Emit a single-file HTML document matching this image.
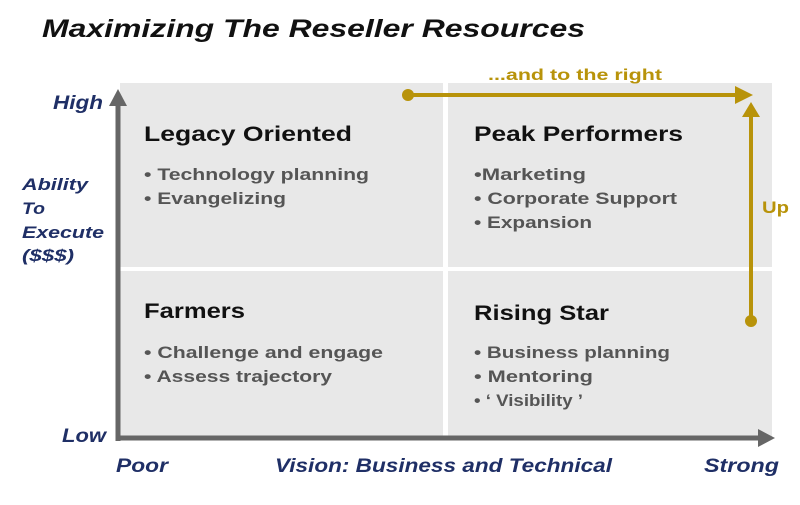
<!DOCTYPE html>
<html><head><style>
body{margin:0;width:800px;height:500px;background:#fff;overflow:hidden}
svg text{font-family:"Liberation Sans",sans-serif}
</style></head><body>
<svg width="800" height="500" viewBox="0 0 800 500">
<text x="42" y="37" font-size="25" font-weight="bold" font-style="italic" fill="#111" textLength="543" lengthAdjust="spacingAndGlyphs">Maximizing The Reseller Resources</text>
<rect x="120" y="83" width="323" height="184" fill="#e8e8e8"/>
<rect x="448" y="83" width="324" height="184" fill="#e8e8e8"/>
<rect x="120" y="271" width="323" height="168" fill="#e8e8e8"/>
<rect x="448" y="271" width="324" height="168" fill="#e8e8e8"/>
<line x1="118" y1="100" x2="118" y2="441" stroke="#666" stroke-width="5"/>
<polygon points="109,106 127,106 118,89" fill="#666"/>
<line x1="116" y1="438" x2="762" y2="438" stroke="#666" stroke-width="5"/>
<polygon points="758,429 758,447 775,438" fill="#666"/>
<g font-weight="bold" font-style="italic" fill="#1f2f66" lengthAdjust="spacingAndGlyphs">
<text x="53" y="109" font-size="19" textLength="50" lengthAdjust="spacingAndGlyphs">High</text>
<text x="22" y="190" font-size="17" textLength="66" lengthAdjust="spacingAndGlyphs">Ability</text>
<text x="22" y="214" font-size="17" textLength="23" lengthAdjust="spacingAndGlyphs">To</text>
<text x="22" y="238" font-size="17" textLength="82" lengthAdjust="spacingAndGlyphs">Execute</text>
<text x="22" y="261" font-size="17" textLength="52" lengthAdjust="spacingAndGlyphs">($$$)</text>
<text x="62" y="442" font-size="19" textLength="44" lengthAdjust="spacingAndGlyphs">Low</text>
<text x="116" y="472" font-size="19" textLength="52" lengthAdjust="spacingAndGlyphs">Poor</text>
<text x="275" y="472" font-size="19" textLength="337" lengthAdjust="spacingAndGlyphs">Vision: Business and Technical</text>
<text x="704" y="472" font-size="19" textLength="75" lengthAdjust="spacingAndGlyphs">Strong</text>
</g>
<g fill="#b8930a" stroke="#b8930a">
<line x1="408" y1="95" x2="740" y2="95" stroke-width="4"/>
<circle cx="408" cy="95" r="6" stroke="none"/>
<polygon points="735,86 735,104 753,95" stroke="none"/>
<line x1="751" y1="320" x2="751" y2="112" stroke-width="4"/>
<circle cx="751" cy="321" r="6" stroke="none"/>
<polygon points="742,117 760,117 751,102" stroke="none"/>
</g>
<text x="488" y="80" font-size="16" font-weight="bold" fill="#b8930a" textLength="174" lengthAdjust="spacingAndGlyphs">...and to the right</text>
<text x="762" y="213" font-size="17" font-weight="bold" fill="#b8930a" textLength="27" lengthAdjust="spacingAndGlyphs">Up</text>
<g font-size="21" font-weight="bold" fill="#111">
<text x="144" y="141" textLength="208" lengthAdjust="spacingAndGlyphs">Legacy Oriented</text>
<text x="474" y="141" textLength="209" lengthAdjust="spacingAndGlyphs">Peak Performers</text>
<text x="144" y="318" textLength="101" lengthAdjust="spacingAndGlyphs">Farmers</text>
<text x="474" y="320" textLength="135" lengthAdjust="spacingAndGlyphs">Rising Star</text>
</g>
<g font-size="17" font-weight="bold" fill="#555">
<text x="144" y="180" textLength="225" lengthAdjust="spacingAndGlyphs">• Technology planning</text>
<text x="144" y="204" textLength="142" lengthAdjust="spacingAndGlyphs">• Evangelizing</text>
<text x="474" y="180" textLength="112" lengthAdjust="spacingAndGlyphs">•Marketing</text>
<text x="474" y="204" textLength="203" lengthAdjust="spacingAndGlyphs">• Corporate Support</text>
<text x="474" y="228" textLength="118" lengthAdjust="spacingAndGlyphs">• Expansion</text>
<text x="144" y="358" textLength="239" lengthAdjust="spacingAndGlyphs">• Challenge and engage</text>
<text x="144" y="382" textLength="188" lengthAdjust="spacingAndGlyphs">• Assess trajectory</text>
<text x="474" y="358" textLength="196" lengthAdjust="spacingAndGlyphs">• Business planning</text>
<text x="474" y="382" textLength="119" lengthAdjust="spacingAndGlyphs">• Mentoring</text>
<text x="474" y="406" textLength="109" lengthAdjust="spacingAndGlyphs">• ‘ Visibility ’</text>
</g>
</svg>
</body></html>
